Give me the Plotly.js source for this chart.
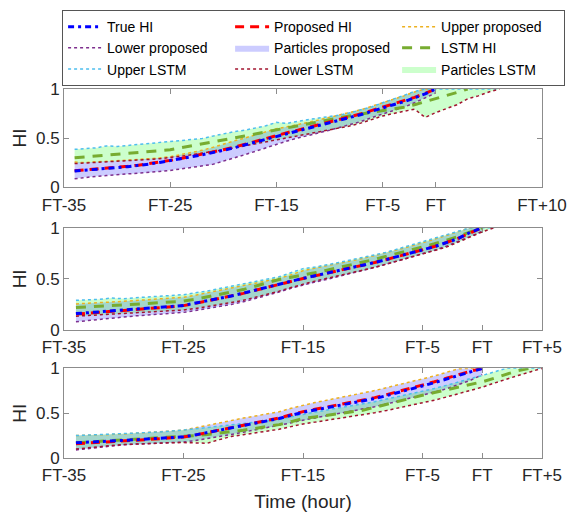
<!DOCTYPE html>
<html><head><meta charset="utf-8">
<script src="https://cdn.plot.ly/plotly-3.0.1.min.js"></script>
<style>html,body{margin:0;padding:0;background:#fff}#chart{width:569px;height:515px}</style>
</head><body><div id="chart"></div>
<script>
// ---------- hours relative to failure time FT ----------
const hoursP = [-34,-33,-32,-31,-30,-29,-28,-27,-26,-25,-24,-23,-22,-21,-20,-19,-18,-17,-16,-15,-14,-13,-12,-11,-10,-9,-8,-7,-6,-5,-4,-3,-2,-1,0];
const hoursL1 = [-34,-33,-32,-31,-30,-29,-28,-27,-26,-25,-24,-23,-22,-21,-20,-19,-18,-17,-16,-15,-14,-13,-12,-11,-10,-9,-8,-7,-6,-5,-4,-3,-2,-1,0,1,2,3,4,5,6];
const hoursL2 = [-34,-33,-32,-31,-30,-29,-28,-27,-26,-25,-24,-23,-22,-21,-20,-19,-18,-17,-16,-15,-14,-13,-12,-11,-10,-9,-8,-7,-6,-5,-4,-3,-2,-1,0,1];
const hoursL3 = [-34,-33,-32,-31,-30,-29,-28,-27,-26,-25,-24,-23,-22,-21,-20,-19,-18,-17,-16,-15,-14,-13,-12,-11,-10,-9,-8,-7,-6,-5,-4,-3,-2,-1,0,1,2,3,4,5];

// ---------- panel 1 ----------
const true1 = [0.165,0.172,0.180,0.190,0.199,0.209,0.220,0.235,0.252,0.270,0.289,0.309,0.330,0.352,0.375,0.400,0.430,0.460,0.490,0.520,0.547,0.573,0.600,0.630,0.660,0.687,0.713,0.740,0.775,0.810,0.840,0.870,0.910,0.950,1.000];
const prop1 = [0.168,0.176,0.183,0.193,0.203,0.212,0.224,0.238,0.256,0.273,0.292,0.313,0.335,0.357,0.381,0.406,0.437,0.468,0.497,0.528,0.555,0.580,0.607,0.636,0.665,0.693,0.720,0.748,0.782,0.816,0.846,0.876,0.915,0.955,1.000];
const upP1 = [0.255,0.250,0.258,0.262,0.270,0.275,0.282,0.288,0.298,0.310,0.330,0.352,0.375,0.405,0.440,0.470,0.500,0.530,0.565,0.595,0.615,0.635,0.660,0.685,0.710,0.735,0.760,0.790,0.825,0.860,0.890,0.930,0.970,1.000,1.000];
const loP1 = [0.085,0.100,0.110,0.118,0.125,0.135,0.140,0.150,0.160,0.170,0.185,0.200,0.215,0.232,0.265,0.295,0.330,0.365,0.400,0.440,0.470,0.500,0.525,0.552,0.580,0.610,0.640,0.670,0.710,0.745,0.780,0.815,0.860,0.910,0.960];
const lstm1 = [0.300,0.308,0.316,0.325,0.334,0.343,0.352,0.362,0.371,0.381,0.400,0.420,0.440,0.460,0.480,0.500,0.521,0.542,0.563,0.585,0.607,0.628,0.650,0.672,0.692,0.710,0.728,0.745,0.763,0.780,0.795,0.815,0.840,0.870,0.900,0.930,0.965,1.000];
const upL1 = [0.385,0.395,0.400,0.420,0.415,0.425,0.435,0.440,0.450,0.460,0.470,0.480,0.495,0.520,0.545,0.565,0.580,0.600,0.625,0.660,0.650,0.670,0.690,0.705,0.720,0.735,0.760,0.790,0.820,0.860,0.895,0.935,0.975,1.000,1.000,1.000,1.000,1.000,1.000,1.000,1.000];
const loL1 = [0.240,0.245,0.250,0.255,0.262,0.268,0.275,0.282,0.290,0.300,0.315,0.330,0.345,0.360,0.380,0.400,0.420,0.440,0.460,0.480,0.500,0.520,0.540,0.560,0.578,0.600,0.625,0.655,0.690,0.725,0.750,0.775,0.795,0.710,0.760,0.800,0.840,0.900,0.930,0.970,1.000];

// ---------- panel 2 ----------
const true2 = [0.160,0.168,0.176,0.185,0.195,0.203,0.212,0.221,0.230,0.240,0.262,0.285,0.308,0.332,0.360,0.390,0.420,0.448,0.476,0.505,0.530,0.555,0.580,0.605,0.630,0.660,0.690,0.720,0.750,0.780,0.815,0.855,0.895,0.955,1.000];
const prop2 = [0.155,0.163,0.172,0.181,0.191,0.200,0.209,0.218,0.228,0.238,0.260,0.283,0.306,0.330,0.358,0.388,0.418,0.447,0.475,0.503,0.529,0.554,0.579,0.604,0.630,0.660,0.690,0.720,0.750,0.781,0.816,0.856,0.897,0.950,1.000];
const upP2 = [0.255,0.260,0.266,0.272,0.280,0.288,0.296,0.304,0.312,0.320,0.340,0.362,0.385,0.410,0.435,0.458,0.480,0.505,0.540,0.580,0.605,0.628,0.652,0.676,0.700,0.728,0.755,0.787,0.820,0.852,0.888,0.925,0.962,1.000,1.000];
const loP2 = [0.080,0.092,0.105,0.118,0.128,0.138,0.146,0.155,0.163,0.172,0.190,0.208,0.228,0.250,0.275,0.305,0.338,0.372,0.408,0.440,0.468,0.495,0.523,0.552,0.580,0.612,0.645,0.678,0.710,0.745,0.780,0.820,0.865,0.915,0.965];
const lstm2 = [0.220,0.225,0.232,0.238,0.245,0.252,0.259,0.266,0.273,0.282,0.300,0.322,0.345,0.370,0.395,0.428,0.462,0.493,0.515,0.535,0.560,0.585,0.610,0.635,0.660,0.690,0.722,0.752,0.780,0.810,0.843,0.878,0.915,0.960,1.000];
const upL2 = [0.290,0.292,0.300,0.312,0.305,0.315,0.322,0.328,0.338,0.345,0.365,0.380,0.405,0.428,0.450,0.468,0.490,0.520,0.560,0.600,0.615,0.635,0.660,0.685,0.710,0.735,0.760,0.795,0.830,0.860,0.895,0.930,0.965,1.000,1.000,1.000];
const loL2 = [0.135,0.142,0.150,0.158,0.165,0.170,0.176,0.182,0.188,0.195,0.210,0.228,0.248,0.268,0.290,0.318,0.348,0.380,0.415,0.450,0.478,0.505,0.530,0.555,0.580,0.612,0.645,0.678,0.710,0.745,0.775,0.810,0.860,0.910,0.960,1.000];

// ---------- panel 3 ----------
const true3 = [0.170,0.175,0.182,0.189,0.197,0.204,0.212,0.220,0.228,0.236,0.258,0.283,0.308,0.333,0.360,0.387,0.413,0.440,0.475,0.510,0.535,0.560,0.583,0.606,0.630,0.662,0.696,0.730,0.765,0.800,0.840,0.880,0.920,0.960,1.000];
const prop3 = [0.160,0.166,0.174,0.182,0.190,0.198,0.206,0.215,0.224,0.234,0.257,0.283,0.309,0.335,0.363,0.391,0.419,0.447,0.482,0.517,0.543,0.569,0.593,0.617,0.641,0.673,0.707,0.741,0.776,0.811,0.850,0.890,0.930,0.968,1.000];
const upP3 = [0.250,0.252,0.256,0.262,0.268,0.275,0.282,0.290,0.300,0.310,0.337,0.365,0.392,0.420,0.445,0.468,0.490,0.515,0.555,0.590,0.618,0.645,0.670,0.695,0.720,0.752,0.785,0.818,0.850,0.880,0.915,0.955,0.995,1.000,1.000];
const loP3 = [0.090,0.105,0.120,0.135,0.148,0.155,0.160,0.166,0.172,0.178,0.195,0.215,0.238,0.262,0.288,0.313,0.338,0.362,0.392,0.422,0.446,0.470,0.494,0.518,0.542,0.572,0.603,0.635,0.668,0.700,0.735,0.772,0.815,0.865,0.930];
const lstm3 = [0.170,0.178,0.186,0.194,0.202,0.210,0.218,0.224,0.230,0.236,0.250,0.262,0.276,0.290,0.310,0.330,0.350,0.372,0.405,0.440,0.458,0.477,0.495,0.513,0.532,0.565,0.600,0.633,0.667,0.700,0.730,0.760,0.790,0.820,0.850,0.890,0.930,0.975,1.000];
const upL3 = [0.250,0.255,0.258,0.262,0.268,0.275,0.282,0.290,0.300,0.310,0.325,0.340,0.355,0.370,0.385,0.400,0.415,0.430,0.460,0.490,0.512,0.535,0.557,0.578,0.600,0.628,0.657,0.685,0.712,0.740,0.775,0.810,0.850,0.885,0.920,0.960,1.000,1.000,1.000,1.000];
const loL3 = [0.100,0.115,0.128,0.140,0.150,0.157,0.162,0.166,0.170,0.172,0.172,0.165,0.205,0.240,0.260,0.280,0.300,0.320,0.350,0.380,0.400,0.420,0.440,0.460,0.480,0.505,0.530,0.557,0.583,0.610,0.645,0.680,0.715,0.750,0.790,0.835,0.880,0.920,0.960,1.000];

// ---------- axis ticks ----------
const xTickVals1 = [-35,-25,-15,-5,0,10];
const xTickText1 = ['FT-35','FT-25','FT-15','FT-5','FT','FT+10'];
const xTickVals23 = [-35,-25,-15,-5,0,5];
const xTickText23 = ['FT-35','FT-25','FT-15','FT-5','FT','FT+5'];
const yTickVals = [0,0.5,1];
const yTickText = ['0','0.5','1'];

const FONT = '"Liberation Sans", Arial, sans-serif';

const panels = [
  {ax:'', hp:hoursP, hl:hoursL1, tr:true1, pr:prop1, uP:upP1, lP:loP1, ls:lstm1, uL:upL1, lL:loL1},
  {ax:'2', hp:hoursP, hl:hoursL2, tr:true2, pr:prop2, uP:upP2, lP:loP2, ls:lstm2, uL:upL2, lL:loL2},
  {ax:'3', hp:hoursP, hl:hoursL3, tr:true3, pr:prop3, uP:upP3, lP:loP3, ls:lstm3, uL:upL3, lL:loL3}
];

const traces = [];
panels.forEach((p, i) => {
  const xa = 'x' + p.ax, ya = 'y' + p.ax;
  const show = i === 0;
  const base = {xaxis: xa, yaxis: ya, showlegend: show, hoverinfo: 'skip', mode: 'lines'};
  traces.push(Object.assign({}, base, {
    name: 'Particles proposed', legendrank: 5,
    x: p.hp.concat(p.hp.slice().reverse()),
    y: p.uP.concat(p.lP.slice().reverse()),
    fill: 'toself', fillcolor: 'rgba(0,0,255,0.2)', line: {width: 0, color: 'rgba(0,0,255,0)'}
  }));
  traces.push(Object.assign({}, base, {
    name: 'Particles LSTM', legendrank: 9,
    x: p.hl.concat(p.hl.slice().reverse()),
    y: p.uL.concat(p.lL.slice().reverse()),
    fill: 'toself', fillcolor: 'rgba(0,255,0,0.2)', line: {width: 0, color: 'rgba(0,255,0,0)'}
  }));
  traces.push(Object.assign({}, base, {name: 'Upper proposed', legendrank: 3, x: p.hp, y: p.uP,
    line: {color: '#EDB120', width: 1.5, dash: 'dot'}}));
  traces.push(Object.assign({}, base, {name: 'Lower proposed', legendrank: 4, x: p.hp, y: p.lP,
    line: {color: '#7E2F8E', width: 1.5, dash: 'dot'}}));
  traces.push(Object.assign({}, base, {name: 'Upper LSTM', legendrank: 7, x: p.hl, y: p.uL,
    line: {color: '#4DBEEE', width: 1.5, dash: 'dot'}}));
  traces.push(Object.assign({}, base, {name: 'Lower LSTM', legendrank: 8, x: p.hl, y: p.lL,
    line: {color: '#A2142F', width: 1.5, dash: 'dot'}}));
  traces.push(Object.assign({}, base, {name: 'LSTM HI', legendrank: 6, x: p.hl.slice(0, p.ls.length), y: p.ls,
    line: {color: '#77AC30', width: 3, dash: '10px,8px'}}));
  traces.push(Object.assign({}, base, {name: 'Proposed HI', legendrank: 2, x: p.hp, y: p.pr,
    line: {color: '#FF0000', width: 3, dash: '9px,6px'}}));
  traces.push(Object.assign({}, base, {name: 'True HI', legendrank: 1, x: p.hp, y: p.tr,
    line: {color: '#0000FF', width: 3, dash: '6px,4px,3px,4px'}}));
});

function xax(range, tv, tt, anchor, title) {
  const a = {range: range, domain: [0,1], anchor: anchor, tickvals: tv, ticktext: tt,
    showline: true, mirror: 'ticks', linecolor: '#8c8c8c', linewidth: 1,
    ticks: 'inside', ticklen: 5, tickcolor: '#8c8c8c', showgrid: false, zeroline: false,
    ticklabelstandoff: 2, automargin: false,
    tickfont: {size: 17, color: '#262626', family: FONT}, fixedrange: true};
  if (title) a.title = {text: title, font: {size: 19, color: '#262626', family: FONT}, standoff: 10};
  return a;
}
function yax(dom, anchor) {
  return {range: [0,1], domain: dom, anchor: anchor, tickvals: yTickVals, ticktext: yTickText,
    showline: true, mirror: 'ticks', linecolor: '#8c8c8c', linewidth: 1,
    ticks: 'inside', ticklen: 5, tickcolor: '#8c8c8c', showgrid: false, zeroline: false,
    automargin: false,
    tickfont: {size: 17, color: '#262626', family: FONT},
    title: {text: 'HI', font: {size: 19, color: '#262626', family: FONT}, standoff: 4}, fixedrange: true};
}

const layout = {
  width: 569, height: 515,
  margin: {l: 64, r: 27, t: 89, b: 57, autoexpand: false},
  paper_bgcolor: '#ffffff', plot_bgcolor: '#ffffff',
  font: {family: FONT, color: '#262626'},
  showlegend: true,
  legend: {orientation: 'h', x: -0.004, xanchor: 'left', y: 1.214, yanchor: 'top',
    entrywidth: 118, entrywidthmode: 'pixels', itemwidth: 34, traceorder: 'normal',
    bordercolor: '#555555', borderwidth: 1, bgcolor: '#ffffff',
    font: {size: 14, color: '#000000', family: FONT}},
  xaxis: xax([-35,10], xTickVals1, xTickText1, 'y'),
  yaxis: yax([0.734, 1], 'x'),
  xaxis2: xax([-35,5], xTickVals23, xTickText23, 'y2'),
  yaxis2: yax([0.347, 0.624], 'x2'),
  xaxis3: xax([-35,5], xTickVals23, xTickText23, 'y3', 'Time (hour)'),
  yaxis3: yax([0, 0.243], 'x3')
};

Plotly.newPlot('chart', traces, layout, {displayModeBar: false, staticPlot: true});
</script>
</body></html>
